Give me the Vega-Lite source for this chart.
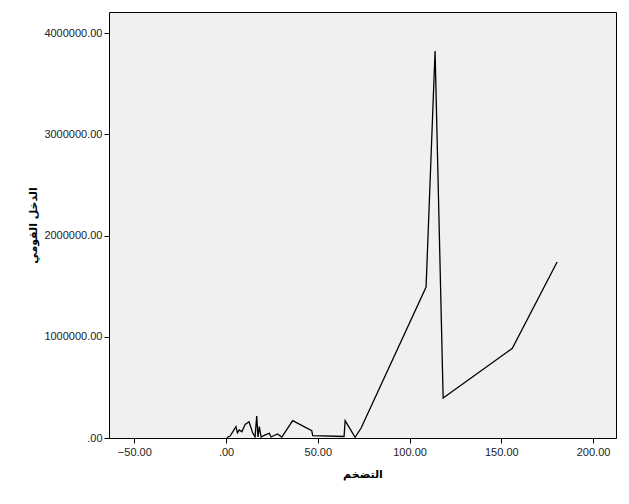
{
  "$schema": "https://vega.github.io/schema/vega-lite/v6.json",
  "autosize": "none",
  "width": 507,
  "height": 426,
  "padding": {"left": 109, "top": 12, "right": 13, "bottom": 66},
  "background": "white",
  "view": {"fill": "#F0F0F0", "stroke": "#000000", "strokeWidth": 1},
  "data": {"values": [
    {"inflation": 0.4, "income": 5000},
    {"inflation": 2.2, "income": 20000},
    {"inflation": 5.4, "income": 112000},
    {"inflation": 6.2, "income": 50000},
    {"inflation": 7.2, "income": 79000},
    {"inflation": 8.6, "income": 62000},
    {"inflation": 10.4, "income": 135000},
    {"inflation": 12.5, "income": 161000},
    {"inflation": 14.6, "income": 46000},
    {"inflation": 15.8, "income": 10000},
    {"inflation": 16.7, "income": 217000},
    {"inflation": 17.4, "income": 10000},
    {"inflation": 18.1, "income": 112000},
    {"inflation": 19.1, "income": 10000},
    {"inflation": 21.3, "income": 30000},
    {"inflation": 23.6, "income": 46000},
    {"inflation": 24.5, "income": 10000},
    {"inflation": 28.0, "income": 40000},
    {"inflation": 30.4, "income": 10000},
    {"inflation": 36.3, "income": 171000},
    {"inflation": 46.7, "income": 72000},
    {"inflation": 47.2, "income": 23000},
    {"inflation": 64.3, "income": 15000},
    {"inflation": 64.9, "income": 171000},
    {"inflation": 70.3, "income": 7000},
    {"inflation": 73.6, "income": 99000},
    {"inflation": 109.0, "income": 1492000},
    {"inflation": 113.9, "income": 3824000},
    {"inflation": 118.3, "income": 395000},
    {"inflation": 156.0, "income": 886000},
    {"inflation": 180.4, "income": 1739000}
  ]},
  "mark": {"type": "line", "color": "#000000", "strokeWidth": 1.3},
  "encoding": {
    "x": {
      "field": "inflation", "type": "quantitative",
      "scale": {"domain": [-63.8, 212.5], "nice": false, "zero": false},
      "axis": {
        "title": "التضخم",
        "values": [-50, 0, 50, 100, 150, 200],
        "labelExpr": "datum.value == 0 ? '.00' : format(datum.value, '.2f')",
        "grid": false, "domain": false,
        "tickColor": "#000000", "tickSize": 5,
        "labelFont": "Liberation Sans", "labelFontSize": 11, "labelColor": "#222222", "labelPadding": 3,
        "titleFont": "DejaVu Sans", "titleFontSize": 11, "titleFontWeight": "bold", "titleColor": "#000000", "titlePadding": 11
      }
    },
    "y": {
      "field": "income", "type": "quantitative",
      "scale": {"domain": [0, 4210000], "nice": false, "zero": true},
      "axis": {
        "title": "الدخل القومي",
        "values": [0, 1000000, 2000000, 3000000, 4000000],
        "labelExpr": "datum.value == 0 ? '.00' : format(datum.value, '.2f')",
        "grid": false, "domain": false,
        "tickColor": "#000000", "tickSize": 5,
        "labelFont": "Liberation Sans", "labelFontSize": 11, "labelColor": "#222222", "labelPadding": 2,
        "titleFont": "DejaVu Sans", "titleFontSize": 11, "titleFontWeight": "bold", "titleColor": "#000000", "titlePadding": 5
      }
    }
  }
}
